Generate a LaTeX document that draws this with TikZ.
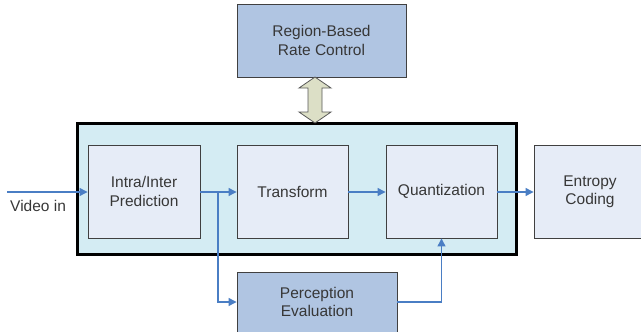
\documentclass[tikz,border=0pt]{standalone}
\usepackage{fontspec}
\setmainfont{Liberation Sans}
\usetikzlibrary{arrows.meta}
\definecolor{boxfill}{RGB}{230,236,247}
\definecolor{darkfill}{RGB}{176,197,226}
\definecolor{stagefill}{RGB}{212,236,243}
\definecolor{flow}{RGB}{74,126,196}
\definecolor{txt}{RGB}{55,55,55}
\definecolor{linkfill}{RGB}{220,223,198}
\tikzset{
  block/.style={draw=black!75, line width=0.9pt, fill=boxfill, inner sep=0pt,
    align=center, text=txt, font=\fontsize{15.5}{18.3}\selectfont},
  darkblock/.style={block, fill=darkfill},
  flowline/.style={draw=flow, line width=1.2pt, -{Triangle[length=8pt,width=8pt]}},
}
\begin{document}
\begin{tikzpicture}[x=1pt,y=-1pt]
\useasboundingbox (0,0) rectangle (641,332);
\clip (0,0) rectangle (641,332);
% encoder stage container
\node[draw=black, line width=3pt, fill=stagefill, minimum width=439pt, minimum height=131pt, inner sep=0pt]
  (stage) at (296.5,188.5) {};
% processing blocks
\node[block, minimum width=112pt, minimum height=93pt] (pred) at (144,191.5) {Intra/Inter\\Prediction};
\node[block, minimum width=111pt, minimum height=93pt] (tr) at (292.5,191.5) {Transform};
\node[block, minimum width=111pt, minimum height=93pt] (q) at (441.5,191.5) {Quantization};
\node[block, minimum width=112pt, minimum height=93pt] (ent) at (590,191.5) {Entropy\\Coding};
\node[darkblock, minimum width=160pt, minimum height=60pt] (pe) at (317,302) {Perception\\Evaluation};
\node[darkblock, minimum width=169pt, minimum height=73pt] (rc) at (321.5,40.5) {Region-Based\\Rate Control};
% two-way link between rate control and the stage
\draw[draw=black!65, line width=0.8pt, fill=linkfill]
  (315,77) -- (331,88) -- (322,88) -- (322,112) -- (331,112) -- (315,123)
  -- (299,112) -- (308,112) -- (308,88) -- (299,88) -- cycle;
% data flow
\coordinate (vin) at (7,192);
\coordinate (split) at (218,192);
\node[text=txt, font=\fontsize{15.5}{18.3}\selectfont, anchor=west, inner sep=0pt] (vlabel) at (10,206) {Video in};
\draw[flowline] (vin) -- (pred.west |- vin);
\draw[flowline] (pred.east |- split) -- (tr.west |- split);
\draw[flowline] (split) |- (pe.west);
\draw[flowline] (tr.east |- split) -- (q.west |- split);
\draw[flowline] (q.east |- split) -- (ent.west |- split);
\draw[flowline] (pe.east) -| (q.south);
\end{tikzpicture}
\end{document}
